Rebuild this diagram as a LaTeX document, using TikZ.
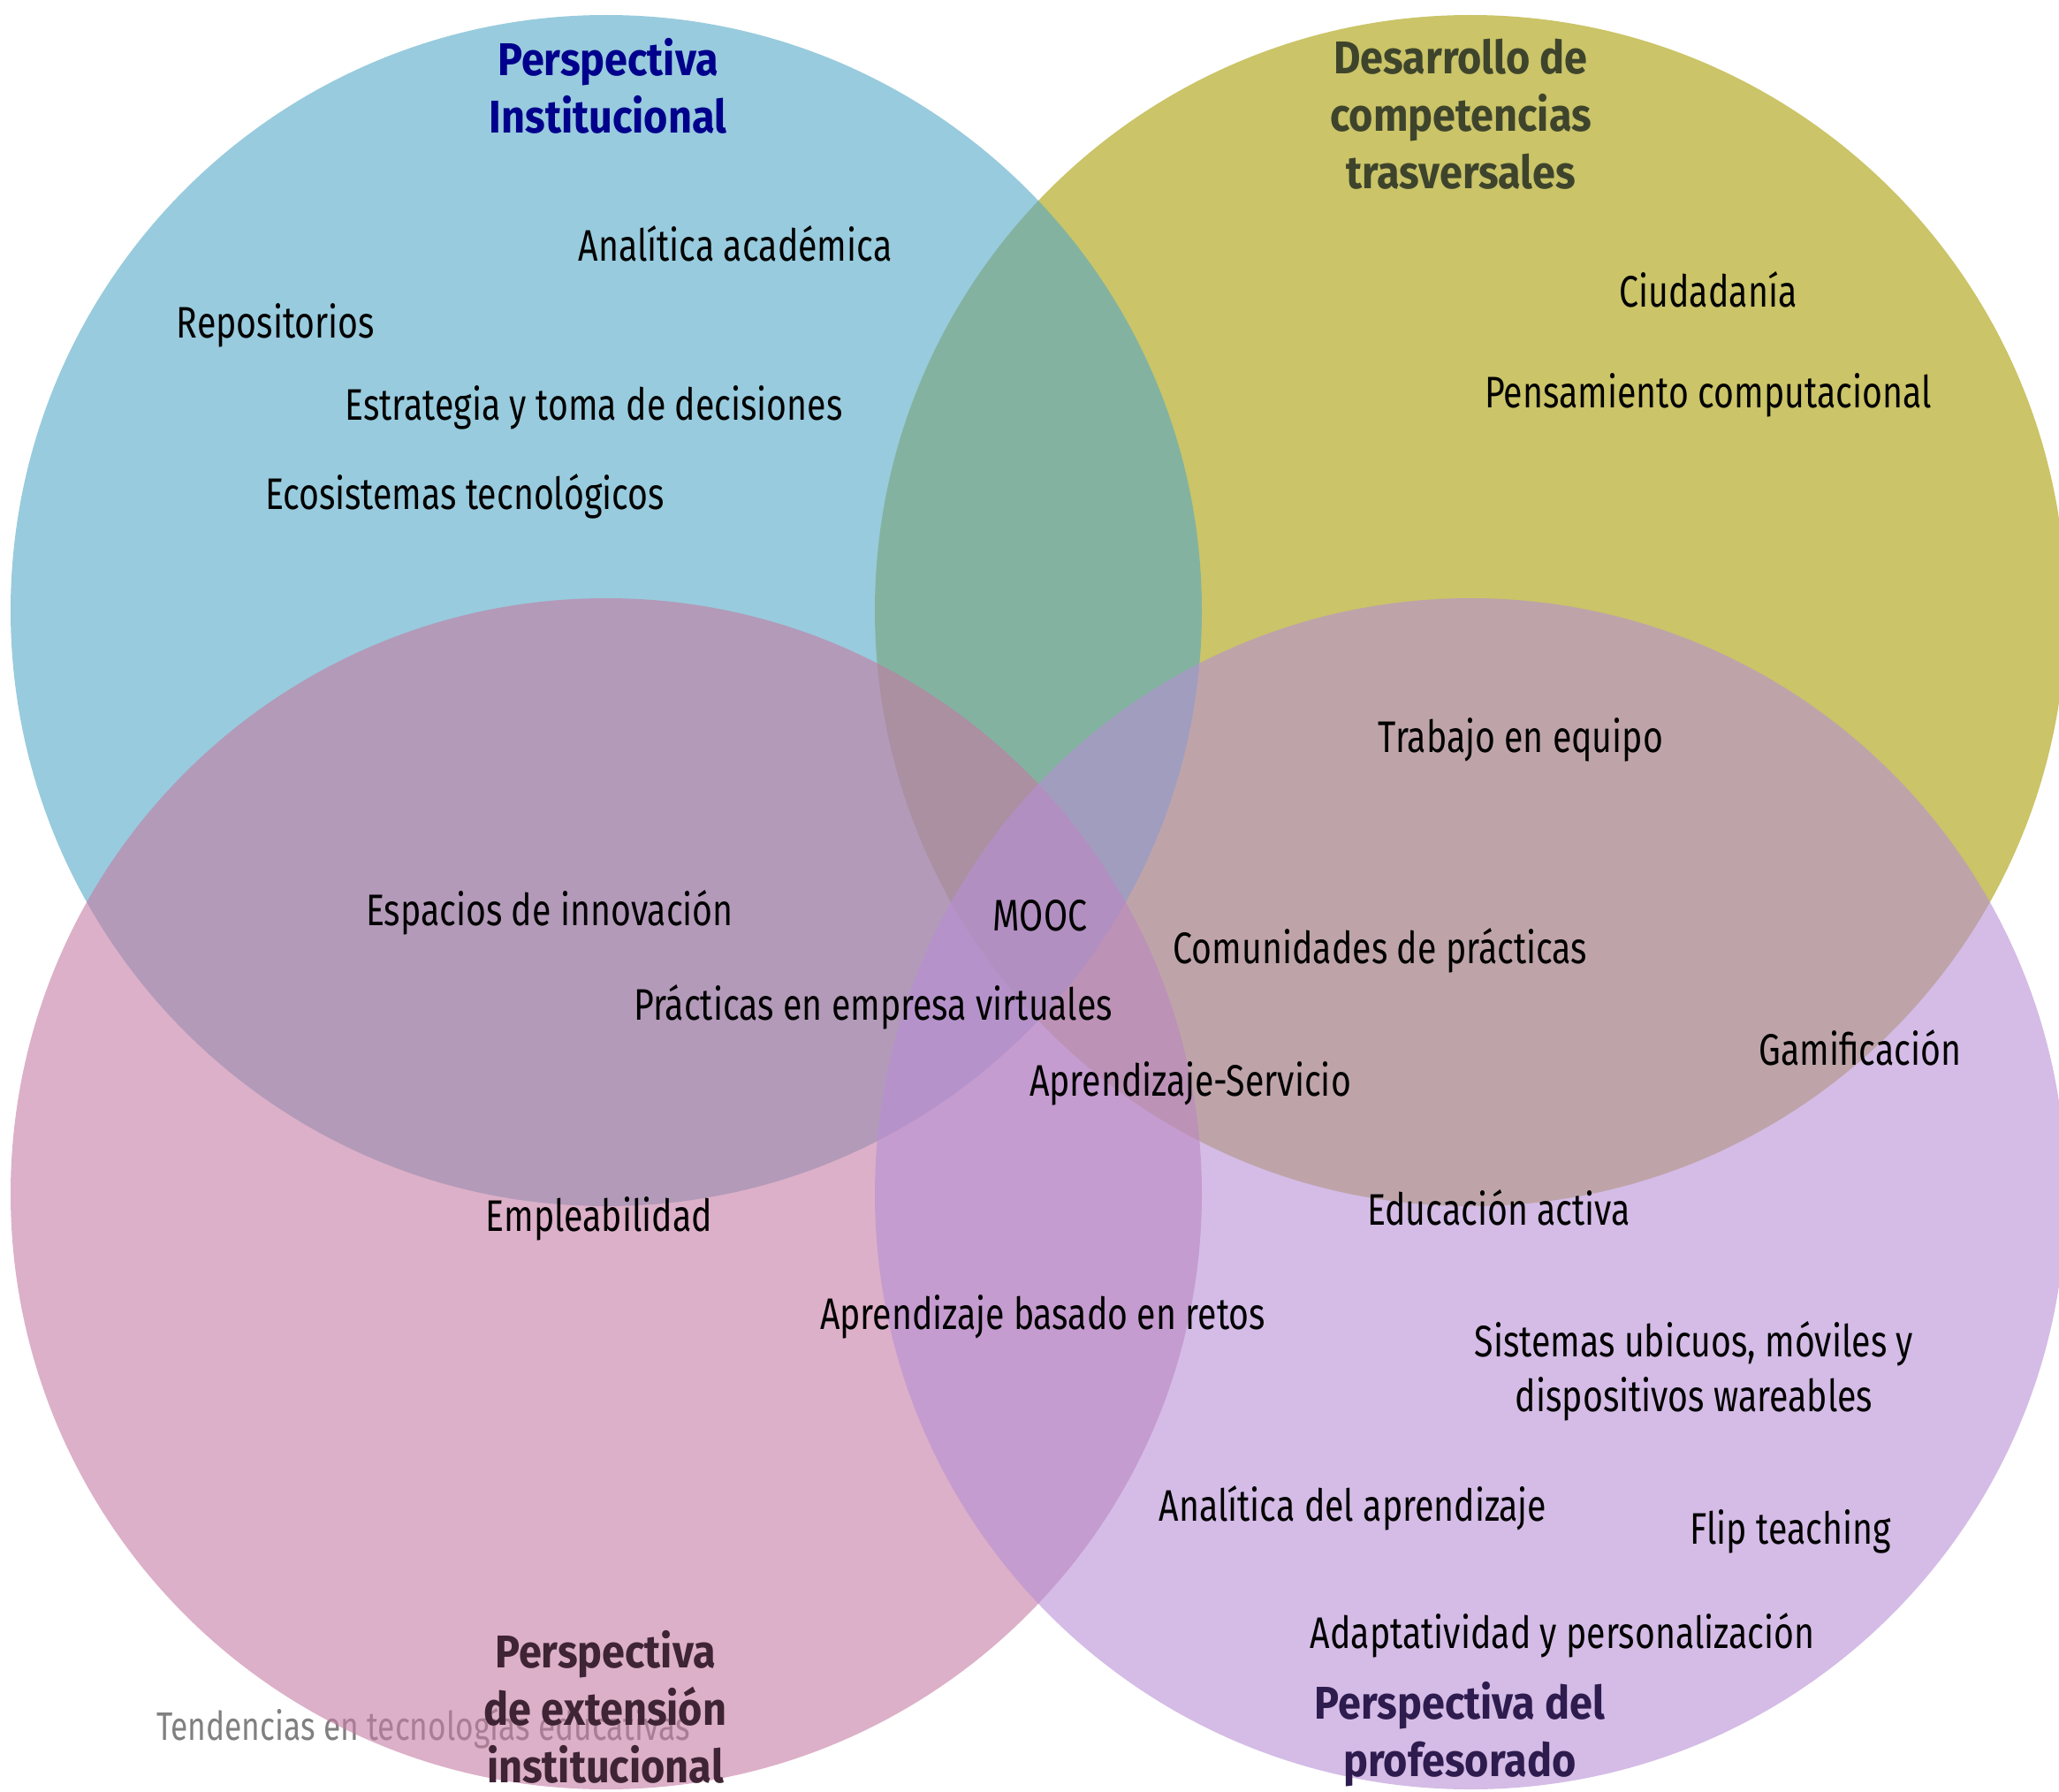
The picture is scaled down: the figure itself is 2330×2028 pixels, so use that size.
\documentclass[tikz,border=0pt]{standalone}
\usepackage{fontspec}
\setmainfont{Fira Sans}[FakeStretch=0.785]
\newfontfamily\titlefont{Fira Sans}[FakeStretch=0.9]
\definecolor{cblue}{RGB}{83,168,198}
\definecolor{colive}{RGB}{168,157,3}
\definecolor{cpink}{RGB}{197,123,163}
\definecolor{cpurple}{RGB}{183,143,213}
\definecolor{tblue}{RGB}{0,0,140}
\definecolor{tolive}{RGB}{62,68,44}
\definecolor{tpink}{RGB}{62,36,52}
\definecolor{tpurple}{RGB}{46,28,78}
\tikzset{
  setcircle/.style={fill=#1, fill opacity=0.6, draw=none},
  item/.style={inner sep=0pt, text=black, font=\fontsize{50}{62}\selectfont, align=center},
  ttl/.style={inner sep=0pt, text=#1, font=\titlefont\bfseries\fontsize{52}{65}\selectfont, align=center},
  foot/.style={inner sep=0pt, text=gray, font=\fontsize{45}{55}\selectfont}
}
\begin{document}
\begin{tikzpicture}[x=1pt,y=-1pt]
\useasboundingbox (0,0) rectangle (2330,2028);
\clip (0,0) rectangle (2330,2028);
\node[foot] (footer) at (479,1956) {Tendencias en tecnologías educativas};
\fill[setcircle=colive] (1664,691) circle[radius=674];
\fill[setcircle=cblue] (686,691) circle[radius=674];
\fill[setcircle=cpink] (686,1351) circle[radius=674];
\fill[setcircle=cpurple] (1664,1351) circle[radius=674];
% titles
\node[ttl=tblue] (t1) at (688,97) {Perspectiva\\Institucional};
\node[ttl=tolive] (t2) at (1653,129) {Desarrollo de\\competencias\\trasversales};
\node[ttl=tpink] (t3) at (685,1932) {Perspectiva\\de extensión\\institucional};
\node[ttl=tpurple] (t4) at (1652,1963) {Perspectiva del\\profesorado};
% items
\node[item] (a1) at (832,276) {Analítica académica};
\node[item] (a2) at (312,368) {Repositorios};
\node[item] (a3) at (672,461) {Estrategia y toma de decisiones};
\node[item] (a4) at (526,562) {Ecosistemas tecnológicos};
\node[item] (b1) at (1933,328) {Ciudadanía};
\node[item] (b2) at (1933,447) {Pensamiento computacional};
\node[item] (b3) at (1721,837) {Trabajo en equipo};
\node[item] (c1) at (622,1033) {Espacios de innovación};
\node[item] (c2) at (1177,1036) {MOOC};
\node[item] (c3) at (1562,1076) {Comunidades de prácticas};
\node[item] (c4) at (988,1140) {Prácticas en empresa virtuales};
\node[item] (c5) at (2105,1186) {Gamificación};
\node[item] (c6) at (1347,1226) {Aprendizaje-Servicio};
\node[item] (d1) at (678,1379) {Empleabilidad};
\node[item] (d2) at (1696,1367) {Educación activa};
\node[item] (d3) at (1180,1490) {Aprendizaje basado en retos};
\node[item] (d4) at (1917,1552) {Sistemas ubicuos, móviles y\\dispositivos wareables};
\node[item] (d5) at (1531,1707) {Analítica del aprendizaje};
\node[item] (d6) at (2026,1733) {Flip teaching};
\node[item] (d7) at (1768,1851) {Adaptatividad y personalización};
\end{tikzpicture}
\end{document}
